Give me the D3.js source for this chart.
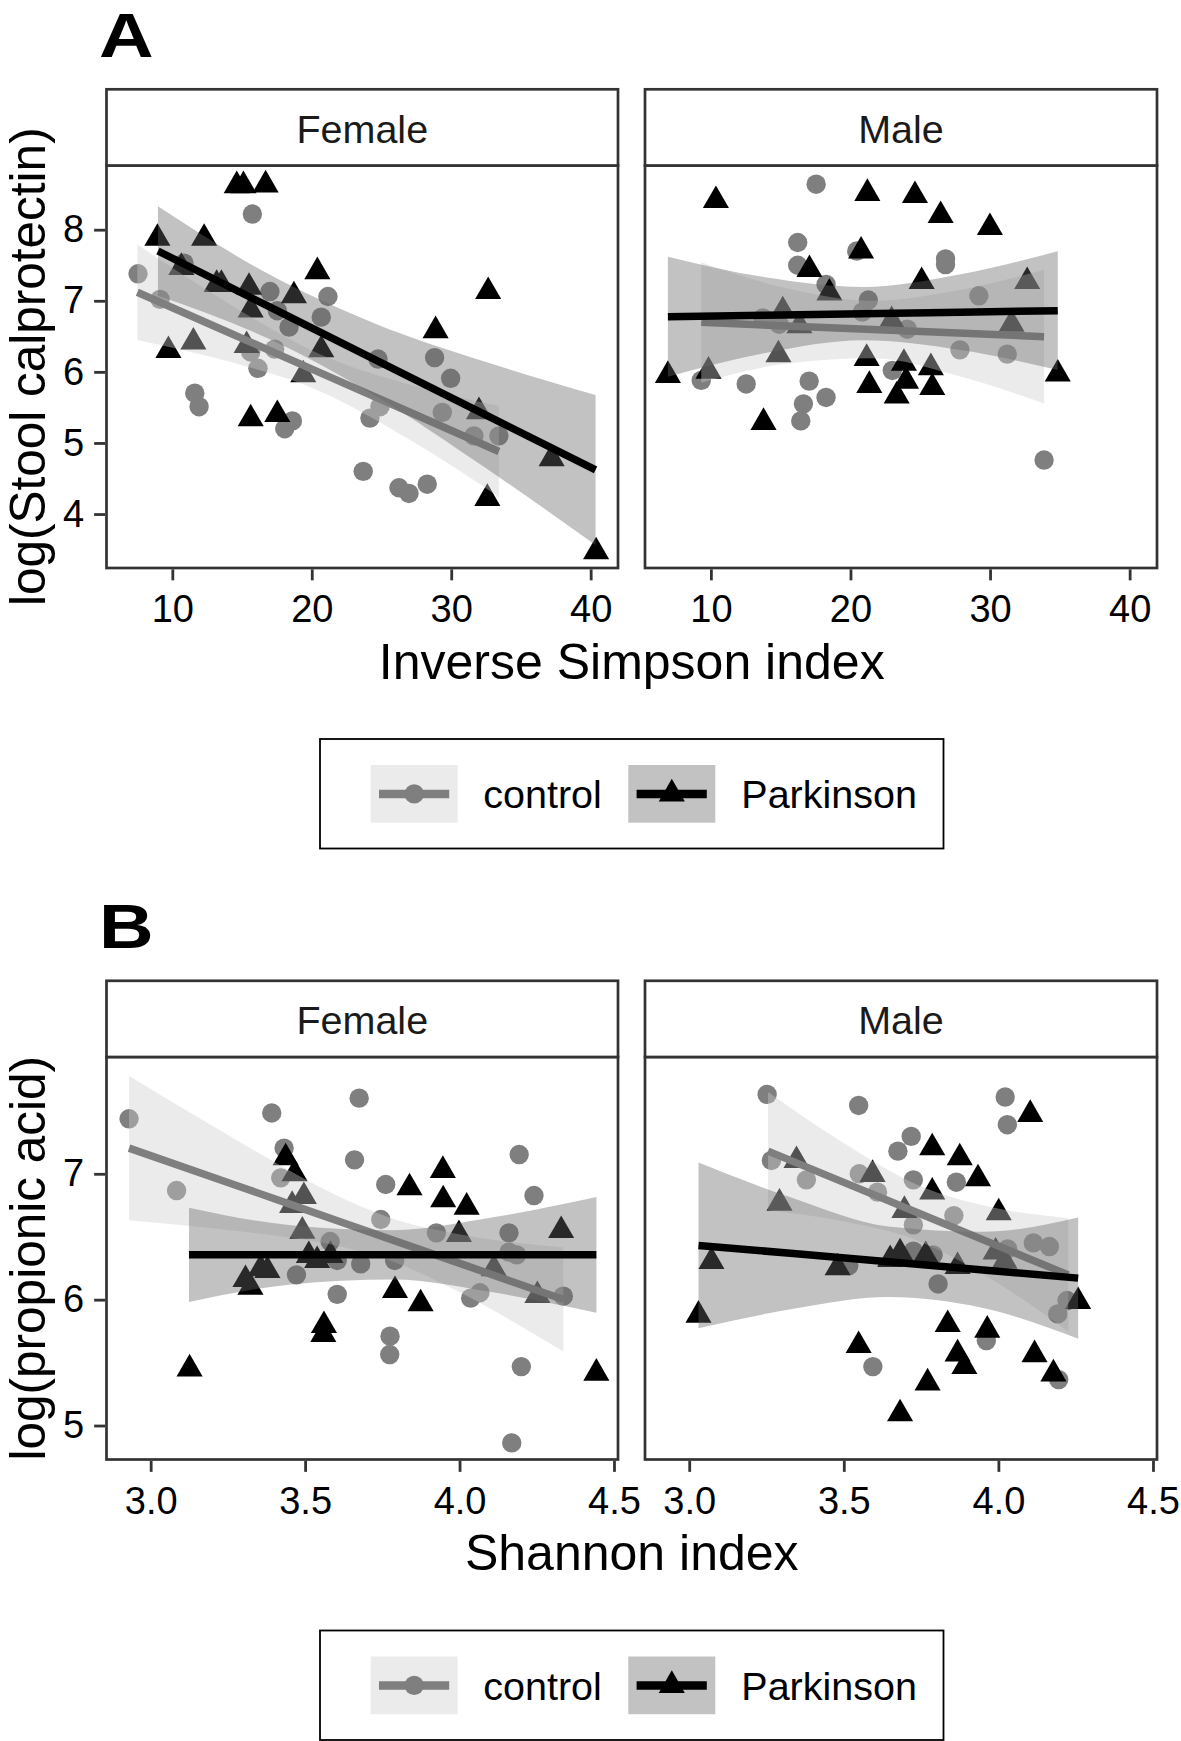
<!DOCTYPE html>
<html><head><meta charset="utf-8">
<script src="https://cdn.jsdelivr.net/npm/d3@7"></script>
<style>
body{margin:0;background:#fff}
svg{display:block}
text{font-family:"Liberation Sans",Arial,Helvetica,sans-serif}
</style>
</head><body>
<svg id="chart" width="1181" height="1741"></svg>
<script>
// ---------- categories & ticks ----------
const facetLabels = ["Female", "Male"];
const groupLabels = ["control", "Parkinson"];
const simpsonTicks = [10, 20, 30, 40];
const calproTicks = [4, 5, 6, 7, 8];
const shannonTicks = [3.0, 3.5, 4.0, 4.5];
const propionicTicks = [5, 6, 7];

// ---------- Panel A : Inverse Simpson vs log(Stool calprotectin) ----------
const aFemCtrlX = [7.54,9.12,10.84,11.61,11.92,15.74,17.0,17.53,18.37,21.16,20.68,15.62,17.34,16.14,18.61,18.06,24.75,24.89,24.17,23.69,26.25,26.97,28.28,28.81,29.96,29.36,31.63,33.42];
const aFemCtrlY = [7.38,7.02,7.53,5.70,5.51,8.22,7.13,6.86,6.63,7.06,6.77,6.28,6.32,6.05,5.31,5.20,6.18,5.51,5.35,4.60,4.37,4.29,4.42,6.20,5.91,5.43,5.10,5.10];
const aFemPdX = [8.93,12.28,9.72,11.51,10.65,13.18,13.52,14.62,15.10,16.69,15.5,15.62,15.33,15.62,17.53,18.72,19.39,20.40,20.68,28.88,32.65,31.99,32.59,37.2,40.39];
const aFemPdY = [7.88,7.88,6.30,6.42,7.47,7.23,7.23,8.62,8.62,8.63,7.19,6.87,6.37,5.34,5.40,7.07,5.96,7.41,6.31,6.58,7.13,5.44,4.22,4.78,3.47];
const aMaleCtrlX = [17.54,16.22,16.22,18.25,20.45,21.28,20.85,26.81,26.81,29.2,13.72,14.89,24.07,27.84,31.23,9.31,12.53,17.04,18.25,16.63,16.44,23.0,33.87];
const aMaleCtrlY = [8.64,7.82,7.50,7.23,7.70,7.01,6.84,7.59,7.51,7.07,6.76,6.67,6.60,6.31,6.25,5.88,5.83,5.87,5.64,5.55,5.31,6.02,4.76];
const aMalePdX = [10.36,21.21,24.62,26.46,29.99,20.76,17.06,18.49,25.1,32.66,15.15,16.34,22.95,31.54,14.84,6.92,9.83,21.16,23.83,25.76,21.35,23.98,23.31,25.86,13.77,34.85];
const aMalePdY = [8.41,8.51,8.48,8.20,8.03,7.70,7.44,7.11,7.27,7.27,6.86,6.65,6.72,6.67,6.24,5.95,6.01,6.19,6.12,6.06,5.81,5.87,5.66,5.78,5.29,5.97];

// fitted lines and confidence bands
const aFemCtrlFitX = [7.49,14.0,20.5,27.0,33.42];
const aFemCtrlFitY = [7.12,6.558,5.996,5.435,4.88];
const aFemCtrlLo   = [6.45,6.149,5.736,5.048,4.24];
const aFemCtrlHi   = [7.79,6.967,6.256,5.822,5.52];
const aFemPdFitX = [8.97,16.8,24.6,32.5,40.35];
const aFemPdFitY = [7.70,6.931,6.166,5.391,4.62];
const aFemPdLo   = [7.07,6.476,5.657,4.643,3.565];
const aFemPdHi   = [8.33,7.386,6.675,6.139,5.675];
const aMaleCtrlFitX = [9.31,15.45,21.6,27.7,33.87];
const aMaleCtrlFitY = [6.697,6.646,6.596,6.546,6.495];
const aMaleCtrlLo   = [5.852,6.117,6.192,5.944,5.555];
const aMaleCtrlHi   = [7.542,7.175,7.0,7.148,7.435];
const aMalePdFitX = [6.92,13.9,20.9,27.9,34.85];
const aMalePdFitY = [6.776,6.797,6.819,6.840,6.861];
const aMalePdLo   = [5.931,6.264,6.444,6.307,6.026];
const aMalePdHi   = [7.621,7.33,7.194,7.373,7.696];

// ---------- Panel B : Shannon vs log(propionic acid) ----------
const bFemCtrlX = [2.930,3.084,3.392,3.432,3.421,3.675,3.660,3.472,3.581,3.604,3.680,3.790,3.604,3.761,3.745,3.775,3.774,3.925,4.036,4.066,4.160,4.160,4.185,4.193,4.241,4.200,4.169,4.336];
const bFemCtrlY = [7.437,6.867,7.483,7.204,6.968,7.601,7.111,6.197,6.462,6.311,6.284,6.311,6.042,6.915,6.637,5.710,5.564,6.531,6.012,6.055,6.531,6.378,6.356,7.153,6.827,5.468,4.862,6.028];
const bFemPdX = [3.126,3.437,3.466,3.496,3.458,3.491,3.512,3.539,3.582,3.307,3.323,3.356,3.378,3.561,3.559,3.838,3.946,3.947,4.023,3.998,3.791,3.874,4.111,4.252,4.329,4.443];
const bFemPdY = [5.450,7.127,7.0,6.82,6.749,6.544,6.351,6.311,6.351,6.160,6.099,6.245,6.232,5.795,5.723,6.889,7.027,6.794,6.735,6.518,6.073,5.967,6.245,6.033,6.549,5.416];
const bMaleCtrlX = [3.252,3.548,3.266,3.379,3.550,3.609,3.675,3.718,3.725,3.725,3.864,3.856,4.022,4.029,3.725,3.789,3.805,4.030,4.113,4.165,3.516,4.222,4.192,3.961,3.594,4.195];
const bMaleCtrlY = [7.631,7.543,7.106,6.952,7.0,6.854,7.180,7.297,6.952,6.595,6.933,6.668,7.610,7.390,6.385,6.356,6.125,6.403,6.451,6.422,6.271,5.993,5.887,5.675,5.468,5.365];
const bMalePdX = [3.030,3.072,3.347,3.292,3.593,3.786,3.875,3.934,3.786,3.696,4.001,4.103,3.480,3.650,3.682,3.765,3.868,3.991,4.020,4.258,3.548,3.836,3.964,3.868,3.890,3.771,3.682,4.117,4.178];
const bMalePdY = [5.877,6.303,7.106,6.767,6.995,7.207,7.127,6.96,6.855,6.709,6.690,7.472,6.253,6.319,6.372,6.351,6.263,6.378,6.306,5.985,5.636,5.803,5.758,5.569,5.469,5.339,5.093,5.563,5.410];

const bFemCtrlFitX = [2.930,3.28,3.455,3.63,3.805,3.98,4.336];
const bFemCtrlFitY = [7.204,6.905,6.755,6.605,6.455,6.306,6.001];
const bFemCtrlLo   = [6.631,6.545,6.491,6.414,6.283,6.084,5.588];
const bFemCtrlHi   = [7.777,7.265,7.019,6.796,6.627,6.528,6.414];
const bFemPdFitX = [3.124,3.454,3.784,4.113,4.443];
const bFemPdFitY = [6.356,6.356,6.356,6.356,6.356];
const bFemPdLo   = [5.981,6.121,6.16,6.056,5.896];
const bFemPdHi   = [6.731,6.591,6.552,6.656,6.816];
const bMaleCtrlFitX = [3.255,3.498,3.741,3.983,4.226];
const bMaleCtrlFitY = [7.18,6.934,6.688,6.443,6.197];
const bMaleCtrlLo   = [6.71,6.622,6.467,6.154,5.747];
const bMaleCtrlHi   = [7.65,7.246,6.909,6.732,6.647];
const bMalePdFitX = [3.030,3.337,3.644,3.951,4.258];
const bMalePdFitY = [6.431,6.366,6.301,6.236,6.171];
const bMalePdLo   = [5.773,5.927,6.021,5.933,5.69];
const bMalePdHi   = [7.089,6.805,6.581,6.539,6.652];

// ---------- helpers ----------
const pts = (xs, ys) => xs.map((v, i) => ({x: v, y: ys[i]}));
const fit = (xs, ys, lo, hi) => xs.map((v, i) => ({x: v, y: ys[i], lo: lo[i], hi: hi[i]}));

const rows = [
  {label: "A", xTitle: "Inverse Simpson index", yTitle: "log(Stool calprotectin)",
   xTicks: simpsonTicks, yTicks: calproTicks, xFmt: d3.format("d"), yFmt: d3.format("d"),
   xDomain: [5.28, 41.96], yDomain: [3.241, 8.903], top: 0,
   panels: [
     {ctrl: pts(aFemCtrlX, aFemCtrlY), pd: pts(aFemPdX, aFemPdY),
      ctrlFit: fit(aFemCtrlFitX, aFemCtrlFitY, aFemCtrlLo, aFemCtrlHi),
      pdFit: fit(aFemPdFitX, aFemPdFitY, aFemPdLo, aFemPdHi)},
     {ctrl: pts(aMaleCtrlX, aMaleCtrlY), pd: pts(aMalePdX, aMalePdY),
      ctrlFit: fit(aMaleCtrlFitX, aMaleCtrlFitY, aMaleCtrlLo, aMaleCtrlHi),
      pdFit: fit(aMalePdFitX, aMalePdFitY, aMalePdLo, aMalePdHi)}]},
  {label: "B", xTitle: "Shannon index", yTitle: "log(propionic acid)",
   xTicks: shannonTicks, yTicks: propionicTicks, xFmt: d3.format(".1f"), yFmt: d3.format("d"),
   xDomain: [2.857, 4.513], yDomain: [4.730, 7.928], top: 891.5,
   panels: [
     {ctrl: pts(bFemCtrlX, bFemCtrlY), pd: pts(bFemPdX, bFemPdY),
      ctrlFit: fit(bFemCtrlFitX, bFemCtrlFitY, bFemCtrlLo, bFemCtrlHi),
      pdFit: fit(bFemPdFitX, bFemPdFitY, bFemPdLo, bFemPdHi)},
     {ctrl: pts(bMaleCtrlX, bMaleCtrlY), pd: pts(bMalePdX, bMalePdY),
      ctrlFit: fit(bMaleCtrlFitX, bMaleCtrlFitY, bMaleCtrlLo, bMaleCtrlHi),
      pdFit: fit(bMalePdFitX, bMalePdFitY, bMalePdLo, bMalePdHi)}]}
];

// ---------- layout / style ----------
const panelXs = [[106.5, 618], [645, 1157]];
const STRIP_TOP = 89.3, PANEL_TOP = 165.5, PANEL_BOTTOM = 568;
const BORDER = "#333333", BW = 2.7;
const CTRL_COL = "#7f7f7f", PD_COL = "#000000";
const CTRL_FILL = "#cccccc", PD_FILL = "#666666", RIB_ALPHA = 0.4;
const LINE_W = 7.5, CIRCLE_R = 9.7, TRI_AREA = 295;

const svg = d3.select("#chart");
svg.append("rect").attr("width", 1181).attr("height", 1741).attr("fill", "#fff");

rows.forEach((row, ri) => {
  const g = svg.append("g").attr("transform", `translate(0,${row.top})`);

  // panel letter
  g.append("text").attr("transform", "translate(99,56.7) scale(1.2,1)")
    .style("font-size", "63px").style("font-weight", "bold").attr("fill", "#000").text(row.label);

  row.panels.forEach((pd, pi) => {
    const [x0, x1] = panelXs[pi];
    const x = d3.scaleLinear().domain(row.xDomain).range([x0, x1]);
    const y = d3.scaleLinear().domain(row.yDomain).range([PANEL_BOTTOM, PANEL_TOP]);
    const clipId = `clip${ri}${pi}`;
    g.append("clipPath").attr("id", clipId).append("rect")
      .attr("x", x0).attr("y", PANEL_TOP).attr("width", x1 - x0).attr("height", PANEL_BOTTOM - PANEL_TOP);
    const p = g.append("g").attr("clip-path", `url(#${clipId})`);

    // points
    p.selectAll("circle.ctrl").data(pd.ctrl).join("circle").attr("class", "ctrl")
      .attr("cx", d => x(d.x)).attr("cy", d => y(d.y)).attr("r", CIRCLE_R).attr("fill", CTRL_COL);
    const tri = d3.symbol().type(d3.symbolTriangle).size(TRI_AREA);
    p.selectAll("path.pd").data(pd.pd).join("path").attr("class", "pd")
      .attr("d", tri).attr("transform", d => `translate(${x(d.x)},${y(d.y)})`).attr("fill", PD_COL);

    // smooths: ribbon then line, control first then Parkinson
    const area = d3.area().x(d => x(d.x)).y0(d => y(d.lo)).y1(d => y(d.hi)).curve(d3.curveMonotoneX);
    const line = d3.line().x(d => x(d.x)).y(d => y(d.y));
    [[pd.ctrlFit, CTRL_FILL, CTRL_COL], [pd.pdFit, PD_FILL, PD_COL]].forEach(([f, fill, col]) => {
      p.append("path").datum(f).attr("d", area).attr("fill", fill).attr("fill-opacity", RIB_ALPHA);
      p.append("path").datum(f).attr("d", line).attr("fill", "none").attr("stroke", col)
        .attr("stroke-width", LINE_W);
    });

    // panel border
    g.append("rect").attr("x", x0).attr("y", PANEL_TOP).attr("width", x1 - x0)
      .attr("height", PANEL_BOTTOM - PANEL_TOP).attr("fill", "none").attr("stroke", BORDER).attr("stroke-width", BW);
    // strip
    g.append("rect").attr("x", x0).attr("y", STRIP_TOP).attr("width", x1 - x0)
      .attr("height", PANEL_TOP - STRIP_TOP).attr("fill", "#fff").attr("stroke", BORDER).attr("stroke-width", BW);
    g.append("text").attr("x", (x0 + x1) / 2).attr("y", STRIP_TOP + 53.4).attr("text-anchor", "middle")
      .style("font-size", "39.5px").attr("fill", "#1a1a1a").text(facetLabels[pi]);

    // x axis
    const xa = g.append("g").attr("transform", `translate(0,${PANEL_BOTTOM + BW / 2})`)
      .call(d3.axisBottom(x).tickValues(row.xTicks).tickFormat(row.xFmt).tickSize(11).tickPadding(15));
    xa.select(".domain").remove();
    xa.selectAll("line").attr("stroke", BORDER).attr("stroke-width", 2.8);
    xa.selectAll("text").style("font-size", "38px").attr("fill", "#000").attr("font-family", null);

    // y axis (left facet only)
    if (pi === 0) {
      const ya = g.append("g").attr("transform", `translate(${x0 - BW / 2},0)`)
        .call(d3.axisLeft(y).tickValues(row.yTicks).tickFormat(row.yFmt).tickSize(11).tickPadding(10));
      ya.select(".domain").remove();
      ya.selectAll("line").attr("stroke", BORDER).attr("stroke-width", 2.8);
      ya.selectAll("text").style("font-size", "38px").attr("fill", "#000").attr("font-family", null);
    }
  });

  // axis titles
  g.append("text").attr("x", 631.75).attr("y", 678.8).attr("text-anchor", "middle")
    .style("font-size", "50px").attr("fill", "#000").text(row.xTitle);
  g.append("text").attr("transform", `translate(45,${(PANEL_TOP + PANEL_BOTTOM) / 2}) rotate(-90)`)
    .attr("text-anchor", "middle").style("font-size", "49.5px").attr("fill", "#000").text(row.yTitle);

  // legend
  const lg = g.append("g");
  lg.append("rect").attr("x", 320).attr("y", 739).attr("width", 623.5).attr("height", 109.5)
    .attr("fill", "#fff").attr("stroke", "#000").attr("stroke-width", 1.8);
  const keys = [
    {kx: 370.7, tx: 483.3, fill: CTRL_FILL, col: CTRL_COL, shape: "circle"},
    {kx: 628.3, tx: 741.3, fill: PD_FILL, col: PD_COL, shape: "triangle"}];
  keys.forEach((k, i) => {
    lg.append("rect").attr("x", k.kx).attr("y", 765).attr("width", 87).attr("height", 57.7)
      .attr("fill", "#fff");
    lg.append("rect").attr("x", k.kx).attr("y", 765).attr("width", 87).attr("height", 57.7)
      .attr("fill", k.fill).attr("fill-opacity", RIB_ALPHA);
    lg.append("line").attr("x1", k.kx + 8.3).attr("x2", k.kx + 78.5).attr("y1", 793.9).attr("y2", 793.9)
      .attr("stroke", k.col).attr("stroke-width", 8.5);
    if (k.shape === "circle") {
      lg.append("circle").attr("cx", k.kx + 43.5).attr("cy", 793.9).attr("r", CIRCLE_R).attr("fill", k.col);
    } else {
      lg.append("path").attr("d", d3.symbol().type(d3.symbolTriangle).size(TRI_AREA))
        .attr("transform", `translate(${k.kx + 43.5},793.9)`).attr("fill", k.col);
    }
    lg.append("text").attr("x", k.tx).attr("y", 808.3).style("font-size", "39.5px").attr("fill", "#000")
      .text(groupLabels[i]);
  });
});
</script>
</body></html>
